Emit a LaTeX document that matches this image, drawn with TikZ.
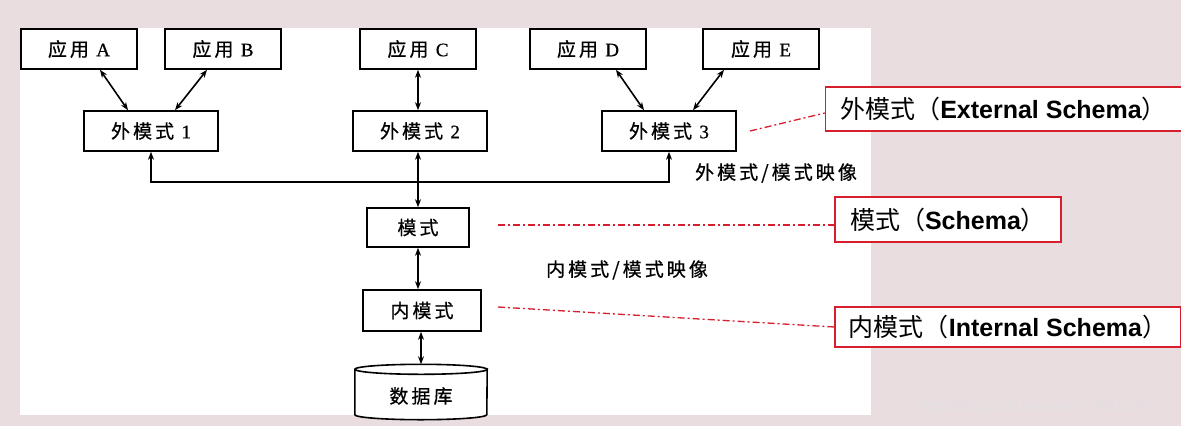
\documentclass[tikz,border=0pt]{standalone}
\usepackage{fontspec}
\setmainfont{Noto Sans CJK SC}
\newfontfamily\cjkbox[LetterSpace=16,FakeBold=0.6]{Noto Sans CJK SC}
\newfontfamily\cjklab{Noto Sans CJK SC}
\newfontfamily\latbox[FakeBold=0.6]{Liberation Serif}
\newfontfamily\latlab{Liberation Sans}
\usetikzlibrary{arrows.meta,calc}
\definecolor{bgpink}{RGB}{234,221,224}
\definecolor{lred}{RGB}{215,30,45}
\begin{document}
\begin{tikzpicture}[x=1pt,y=-1pt,
  box/.style={draw=black,line width=1.6pt,fill=white,inner sep=0pt,minimum height=40pt,font=\fontsize{19}{19}\cjkbox},
  lab/.style={draw=lred,line width=1.4pt,fill=white,inner sep=0pt,font=\fontsize{25}{25}\cjklab},
  arr/.style={line width=1.6pt,{Stealth[length=8pt,width=6pt]}-{Stealth[length=8pt,width=6pt]}},
  dd/.style={lred,line width=1.3pt,dash pattern=on 7pt off 3pt on 2pt off 3pt},
  txt/.style={inner sep=0pt,font=\fontsize{19}{19}\cjkbox}]
\useasboundingbox (0,0) rectangle (1181,426);
\fill[bgpink] (0,0) rectangle (1181,426);
\fill[white] (20,28) rectangle (871,415);

\node[box,minimum width=116pt] (appA) at (79,49) {应用 {\latbox A}};
\node[box,minimum width=116pt] (appB) at (223,49) {应用 {\latbox B}};
\node[box,minimum width=116pt] (appC) at (418,49) {应用 {\latbox C}};
\node[box,minimum width=116pt] (appD) at (588,49) {应用 {\latbox D}};
\node[box,minimum width=116pt] (appE) at (761,49) {应用 {\latbox E}};

\node[box,minimum width=134pt] (ext1) at (151,131) {外模式 {\latbox 1}};
\node[box,minimum width=134pt] (ext2) at (420,131) {外模式 {\latbox 2}};
\node[box,minimum width=134pt] (ext3) at (669,131) {外模式 {\latbox 3}};

\node[box,minimum width=102pt,minimum height=39pt] (schema) at (418,227.5) {模式};
\node[box,minimum width=118pt,minimum height=41pt] (inner) at (422,310.5) {内模式};

% database cylinder
\node[inner sep=0pt,minimum width=132pt,minimum height=45pt] (db) at (421,392) {};
\draw[line width=1.6pt,fill=white] (db.north west) -- (db.south west)
  arc[start angle=180,end angle=360,x radius=66pt,y radius=5pt]
  -- (db.north east) arc[start angle=0,end angle=-180,x radius=66pt,y radius=5pt] -- cycle;
\draw[line width=1.6pt] (db.north west) arc[start angle=180,end angle=0,x radius=66pt,y radius=5pt];
\node[inner sep=0pt,font=\fontsize{19}{19}\cjkbox] (dbt) at (421,396) {数据库};

% connectors apps -> external schemas
\draw[arr] ($(appA.south)+(21,0)$) -- ($(ext1.north)+(-23,0)$);
\draw[arr] ($(appB.south)+(-16,0)$) -- ($(ext1.north)+(24,0)$);
\draw[arr] (appC.south) -- (appC.south |- ext2.north);
\draw[arr] ($(appD.south)+(28,0)$) -- ($(ext3.north)+(-25,0)$);
\draw[arr] ($(appE.south)+(-37,0)$) -- ($(ext3.north)+(24,0)$);

% bus
\coordinate (busy) at (0,182);
\draw[arr] (ext1.south) -- (ext1.south |- busy) -- (ext3.south |- busy) -- (ext3.south);
\draw[arr] (schema.north |- ext2.south) -- (schema.north);
\draw[arr] (schema.south) -- (schema.south |- inner.north);
\draw[arr] (db.north |- inner.south) -- ($(db.north)+(0,-5)$);

\node[txt] (m1) at (776,173) {外模式/模式映像};
\node[txt] (m2) at (627,270) {内模式/模式映像};

% red labels
\node[lab,minimum width=356pt,minimum height=44pt] (L1) at (1003.5,109) {外模式（{\latlab\bfseries External Schema}）};
\node[lab,minimum width=226pt,minimum height=45pt] (L2) at (948,219.5) {模式（{\latlab\bfseries Schema}）};
\node[lab,minimum width=346pt,minimum height=40pt] (L3) at (1008,327) {内模式（{\latlab\bfseries Internal Schema}）};

\coordinate (r1) at (750,131);
\coordinate (r2) at (498,225);
\coordinate (r3) at (498,307);
\draw[dd] (r1) -- (L1.west |- 0,113);
\draw[dd] (r2) -- (L2.west |- r2);
\draw[dd] (r3) -- (L3.west |- 0,327);

\node[inner sep=0pt,font=\fontsize{14}{14}\latlab,text=white!88!black] (wm) at (1035,407) {https://blog.csdn.net/weixin\_46516242};
\end{tikzpicture}
\end{document}
